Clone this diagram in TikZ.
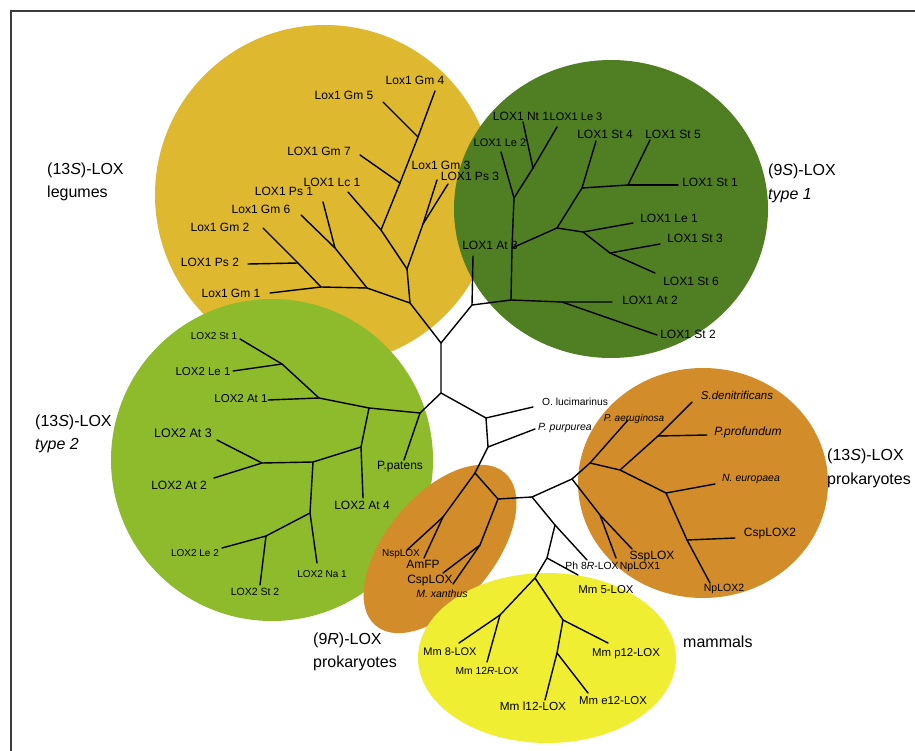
\documentclass[tikz,border=0pt]{standalone}
\usepackage{fontspec}
\setmainfont{Liberation Sans}
\definecolor{goldc}{RGB}{222,184,46}
\definecolor{dkgreen}{RGB}{80,126,34}
\definecolor{ltgreen}{RGB}{142,187,44}
\definecolor{orng}{RGB}{210,140,42}
\definecolor{yell}{RGB}{240,238,50}
\definecolor{framec}{RGB}{60,60,60}
\begin{document}
\begin{tikzpicture}[x=1pt,y=-1pt,
  br/.style={line width=1.4pt,line join=round,line cap=round,black},
  lab/.style={anchor=mid,inner sep=0pt,text=black},
  fs/.style={font=\fontsize{#1}{#1}\selectfont},
  grp/.style={anchor=mid west,inner sep=0pt,text=black,font=\fontsize{16}{16}\selectfont}]
\useasboundingbox (0,0) rectangle (915,751);
\fill[white] (0,0) rectangle (915,751);
\draw[framec,line width=1.6pt] (11,751) -- (11,11) -- (915,11);

% ---------- clade backgrounds ----------
\fill[goldc] (325,195) circle (170);
\fill[dkgreen] (611,209) ellipse [x radius=157,y radius=149];
\fill[ltgreen] (272,460) circle (161);
\fill[orng] (703,483) ellipse [x radius=125,y radius=115];
\fill[orng,rotate around={50:(440,549)}] (440,549) ellipse [x radius=100,y radius=54];
\fill[yell] (547,658) ellipse [x radius=129,y radius=85];

% ---------- coordinates: backbone ----------
\coordinate (c1) at (441,343);
\coordinate (c2) at (441,393);
\coordinate (c3) at (486,418);
\coordinate (c4) at (488,447);
\coordinate (c5) at (475,473);
\coordinate (c6) at (498,499);
\coordinate (c7) at (532,497);
\coordinate (c8) at (555,525);
\coordinate (c9) at (547,558);
\coordinate (lOluc) at (533,407);
\coordinate (lPpur) at (535,429);

% gold clade
\coordinate (g0) at (410,303);
\coordinate (ga) at (407,269);
\coordinate (gb) at (381,230);
\coordinate (gc) at (400,183);
\coordinate (gd) at (418,137);
\coordinate (ge) at (423,224);
\coordinate (gf) at (367,288);
\coordinate (gg) at (335,248);
\coordinate (gh) at (321,287);
\coordinate (gi) at (298,263);
\coordinate (lGm4) at (435,91);
\coordinate (lGm5) at (383,102);
\coordinate (lGm7) at (360,155);
\coordinate (lLc1) at (348,192);
\coordinate (lGm3) at (437,180);
\coordinate (lPs3) at (448,184);
\coordinate (lPs1) at (323,202);
\coordinate (lGm6) at (301,215);
\coordinate (lGm2) at (263,228);
\coordinate (lPs2) at (248,264);
\coordinate (lGm1) at (270,293);

% dark green clade
\coordinate (d0) at (472,305);
\coordinate (d1) at (511,300);
\coordinate (d2) at (562,302);
\coordinate (d3) at (512,248);
\coordinate (d4) at (557,228);
\coordinate (d5) at (514,198);
\coordinate (d6) at (533,168);
\coordinate (d7) at (582,188);
\coordinate (d8) at (628,185);
\coordinate (d9) at (583,232);
\coordinate (d10) at (610,253);
\coordinate (lAt3) at (473,256);
\coordinate (lAt2) at (612,302);
\coordinate (lSt2) at (657,335);
\coordinate (lLe2) at (501,152);
\coordinate (lNt1) at (523,122);
\coordinate (lLe3) at (557,127);
\coordinate (lSt4) at (596,141);
\coordinate (lSt5) at (650,140);
\coordinate (lSt1) at (678,185);
\coordinate (lLe1) at (633,223);
\coordinate (lSt3) at (660,244);
\coordinate (lSt6) at (655,273);

% light green clade
\coordinate (l0) at (420,413);
\coordinate (l1) at (369,408);
\coordinate (l2) at (319,398);
\coordinate (l3) at (282,364);
\coordinate (l4) at (361,447);
\coordinate (l5) at (313,462);
\coordinate (l6) at (262,463);
\coordinate (l7) at (310,513);
\coordinate (l8) at (266,536);
\coordinate (lPpat) at (404,460);
\coordinate (lAtAa) at (268,400);
\coordinate (lStAa) at (240,339);
\coordinate (lLeAa) at (233,371);
\coordinate (lAtDd) at (363,498);
\coordinate (lAtCc) at (217,440);
\coordinate (lAtBb) at (214,478);
\coordinate (lNa1) at (317,563);
\coordinate (lLeBb) at (222,548);
\coordinate (lStBb) at (260,585);

% 9R prokaryotes
\coordinate (r1) at (443,517);
\coordinate (r2) at (480,545);
\coordinate (lNsp) at (407,550);
\coordinate (lAmFP) at (424,558);
\coordinate (lCsp) at (443,573);
\coordinate (lMx) at (453,584);

% 13S prokaryotes
\coordinate (p0) at (572,479);
\coordinate (p1) at (590,463);
\coordinate (p2) at (620,470);
\coordinate (p3) at (658,436);
\coordinate (p4) at (666,493);
\coordinate (p5) at (687,540);
\coordinate (p6) at (600,515);
\coordinate (lPaer) at (628,420);
\coordinate (lSden) at (692,402);
\coordinate (lPprof) at (707,435);
\coordinate (lNeur) at (715,484);
\coordinate (lCspB) at (735,538);
\coordinate (lNpB) at (710,583);
\coordinate (lNpA) at (616,558);
\coordinate (lSsp) at (632,549);

% mammals
\coordinate (lPh) at (587,560);
\coordinate (lMmV) at (578,575);
\coordinate (m0) at (535,578);
\coordinate (m1) at (500,615);
\coordinate (m2) at (563,620);
\coordinate (m3) at (557,653);
\coordinate (lMmE) at (459,643);
\coordinate (lMmR) at (487,662);
\coordinate (lMmP) at (608,643);
\coordinate (lMmL) at (545,700);
\coordinate (lMmEe) at (588,693);

% ---------- branches ----------
\draw[br] (c1) -- (c2) -- (c3) -- (lOluc);
\draw[br] (c3) -- (c4) -- (lPpur);
\draw[br] (c4) -- (c5) -- (c6) -- (c7);
\draw[br] (c7) -- (p0);
\draw[br] (c7) -- (c8) -- (lPh);
\draw[br] (c8) -- (c9) -- (lMmV);
\draw[br] (c9) -- (m0);
% gold
\draw[br] (c1) -- (g0) -- (ga) -- (gb) -- (lLc1);
\draw[br] (gb) -- (gc) -- (lGm7);
\draw[br] (gc) -- (gd) -- (lGm5);
\draw[br] (gd) -- (lGm4);
\draw[br] (ga) -- (ge) -- (lGm3);
\draw[br] (ge) -- (lPs3);
\draw[br] (g0) -- (gf) -- (gg) -- (lGm6);
\draw[br] (gg) -- (lPs1);
\draw[br] (gf) -- (gh) -- (lGm1);
\draw[br] (gh) -- (gi) -- (lPs2);
\draw[br] (gi) -- (lGm2);
% dark green
\draw[br] (c1) -- (d0) -- (lAt3);
\draw[br] (d0) -- (d1) -- (d2) -- (lAt2);
\draw[br] (d2) -- (lSt2);
\draw[br] (d1) -- (d3) -- (d5) -- (lLe2);
\draw[br] (d5) -- (d6) -- (lNt1);
\draw[br] (d6) -- (lLe3);
\draw[br] (d3) -- (d4) -- (d7) -- (lSt4);
\draw[br] (d7) -- (d8) -- (lSt5);
\draw[br] (d8) -- (lSt1);
\draw[br] (d4) -- (d9) -- (lLe1);
\draw[br] (d9) -- (d10) -- (lSt3);
\draw[br] (d10) -- (lSt6);
% light green
\draw[br] (c2) -- (l0) -- (lPpat);
\draw[br] (l0) -- (l1) -- (l2) -- (lAtAa);
\draw[br] (l2) -- (l3) -- (lStAa);
\draw[br] (l3) -- (lLeAa);
\draw[br] (l1) -- (l4) -- (lAtDd);
\draw[br] (l4) -- (l5) -- (l6) -- (lAtCc);
\draw[br] (l6) -- (lAtBb);
\draw[br] (l5) -- (l7) -- (lNa1);
\draw[br] (l7) -- (l8) -- (lLeBb);
\draw[br] (l8) -- (lStBb);
% 9R
\draw[br] (c5) -- (r1) -- (lNsp);
\draw[br] (r1) -- (lAmFP);
\draw[br] (c6) -- (r2) -- (lCsp);
\draw[br] (r2) -- (lMx);
% 13S prokaryotes
\draw[br] (p0) -- (p1) -- (lPaer);
\draw[br] (p1) -- (p2) -- (p3) -- (lSden);
\draw[br] (p3) -- (lPprof);
\draw[br] (p2) -- (p4) -- (lNeur);
\draw[br] (p4) -- (p5) -- (lCspB);
\draw[br] (p5) -- (lNpB);
\draw[br] (p0) -- (p6) -- (lNpA);
\draw[br] (p6) -- (lSsp);
% mammals
\draw[br] (m0) -- (m1) -- (lMmE);
\draw[br] (m1) -- (lMmR);
\draw[br] (m0) -- (m2) -- (lMmP);
\draw[br] (m2) -- (m3) -- (lMmL);
\draw[br] (m3) -- (lMmEe);

% ---------- leaf labels ----------
% gold
\node[lab,fs=12] (tGm4) at (415,82) {Lox1 Gm 4};
\node[lab,fs=12] (tGm5) at (344,97) {Lox1 Gm 5};
\node[lab,fs=12] (tGm7) at (319,153) {LOX1 Gm 7};
\node[lab,fs=12] (tGm3) at (441,167) {Lox1 Gm 3};
\node[lab,fs=12] (tPs3) at (470,178) {LOX1 Ps 3};
\node[lab,fs=12] (tLc1) at (332,184) {LOX1 Lc 1};
\node[lab,fs=12] (tPs1) at (284,193) {LOX1 Ps 1};
\node[lab,fs=12] (tGm6) at (261,211) {Lox1 Gm 6};
\node[lab,fs=12] (tGm2) at (220,229) {Lox1 Gm 2};
\node[lab,fs=12] (tPs2) at (210,264) {LOX1 Ps 2};
\node[lab,fs=12] (tGm1) at (231,295) {Lox1 Gm 1};
% dark green
\node[lab,fs=12] (tNt1) at (521,118) {LOX1 Nt 1};
\node[lab,fs=11] (tLe3) at (576,118) {LOX1 Le 3};
\node[lab,fs=11] (tLe2) at (500,144) {LOX1 Le 2};
\node[lab,fs=12] (tSt4) at (605,136) {LOX1 St 4};
\node[lab,fs=12] (tSt5) at (673,136) {LOX1 St 5};
\node[lab,fs=12] (tSt1) at (710,184) {LOX1 St 1};
\node[lab,fs=12] (tLe1) at (669,220) {LOX1 Le 1};
\node[lab,fs=12] (tSt3) at (695,240) {LOX1 St 3};
\node[lab,fs=12] (tSt6) at (691,283) {LOX1 St 6};
\node[lab,fs=12] (tAt3) at (490,247) {LOX1 At 3};
\node[lab,fs=12] (tAt2) at (650,302) {LOX1 At 2};
\node[lab,fs=12] (tSt2) at (688,336) {LOX1 St 2};
% light green
\node[lab,fs=10] (tStAa) at (214,337) {LOX2 St 1};
\node[lab,fs=11.5] (tLeAa) at (203,373) {LOX2 Le 1};
\node[lab,fs=11.5] (tAtAa) at (241,400) {LOX2 At 1};
\node[lab,fs=12.5] (tAtCc) at (183,435) {LOX2 At 3};
\node[lab,fs=12] (tAtBb) at (179,487) {LOX2 At 2};
\node[lab,fs=12] (tAtDd) at (362,507) {LOX2 At 4};
\node[lab,fs=10] (tLeBb) at (195,554) {LOX2 Le 2};
\node[lab,fs=10] (tNa1) at (322,575) {LOX2 Na 1};
\node[lab,fs=10.5] (tStBb) at (255,593) {LOX2 St 2};
\node[lab,fs=12] (tPpat) at (400,467) {P.patens};
% centre
\node[lab,fs=10.3] (tOluc) at (575,403) {O. lucimarinus};
\node[lab,fs=10.5] (tPpur) at (565,428) {\itshape P. purpurea};
% 9R
\node[lab,fs=10] (tNsp) at (401,554) {NspLOX};
\node[lab,fs=12] (tAmFP) at (423,566) {AmFP};
\node[lab,fs=12] (tCsp) at (430,581) {CspLOX};
\node[lab,fs=10.5] (tMx) at (442,595) {\itshape M. xanthus};
% 13S prokaryotes
\node[lab,fs=11.5] (tSden) at (737,397) {\itshape S.denitrificans};
\node[lab,fs=12] (tPprof) at (748,433) {\itshape P.profundum};
\node[lab,fs=10] (tPaer) at (634,419) {\itshape P. aeruginosa};
\node[lab,fs=10.5] (tNeur) at (751,479) {\itshape N. europaea};
\node[lab,fs=12] (tCspB) at (770,534) {CspLOX2};
\node[lab,fs=10.5] (tNpB) at (724,589) {NpLOX2};
\node[lab,fs=12] (tSsp) at (652,557) {SspLOX};
\node[lab,fs=10.5] (tNpA) at (640,567) {NpLOX1};
% mammals
\node[lab,fs=10.4] (tPh) at (592,567) {Ph 8\textit{R}-LOX};
\node[lab,fs=11.4] (tMmV) at (606,591) {Mm 5-LOX};
\node[lab,fs=11] (tMmE) at (450,653) {Mm 8-LOX};
\node[lab,fs=10.3] (tMmR) at (487,672) {Mm 12\textit{R}-LOX};
\node[lab,fs=11.4] (tMmP) at (626,654) {Mm p12-LOX};
\node[lab,fs=11.8] (tMmL) at (533,708) {Mm l12-LOX};
\node[lab,fs=11.4] (tMmEe) at (613,702) {Mm e12-LOX};

% ---------- group labels ----------
\node[grp] (gLegA) at (47,172) {(13\textit{S})-LOX};
\node[grp] (gLegB) at (47,195) {legumes};
\node[grp] (gNineA) at (768,173) {(9\textit{S})-LOX};
\node[grp] (gNineB) at (768,197) {\itshape type 1};
\node[grp] (gTwoA) at (35,424) {(13\textit{S})-LOX};
\node[grp] (gTwoB) at (35,447) {\itshape type 2};
\node[grp] (gProA) at (827,458) {(13\textit{S})-LOX};
\node[grp] (gProB) at (827,482) {prokaryotes};
\node[grp] (gNrA) at (313,642) {(9\textit{R})-LOX};
\node[grp] (gNrB) at (313,665) {prokaryotes};
\node[grp] (gMam) at (683,645) {mammals};
\end{tikzpicture}
\end{document}
